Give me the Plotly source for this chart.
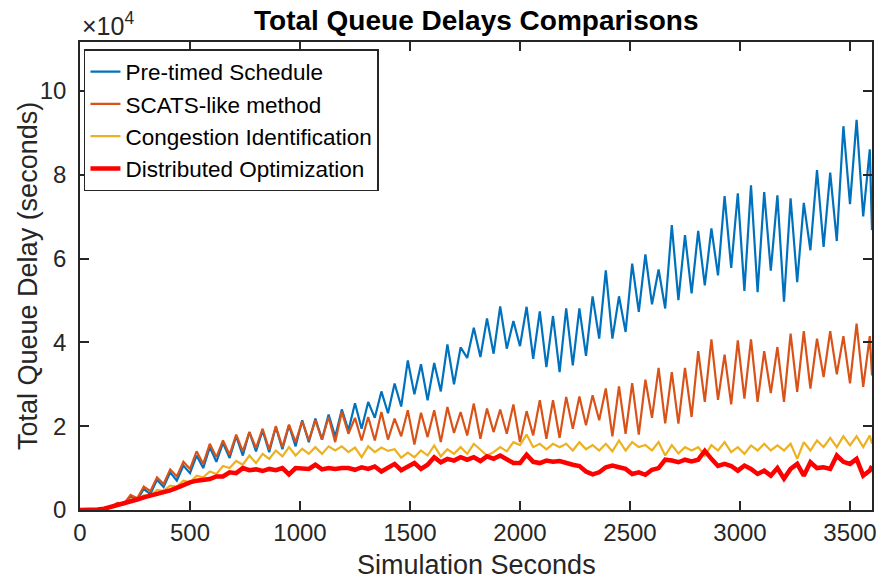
import plotly.graph_objects as go

# sampling grid (seconds)
seconds = [0] + list(range(20, 3591, 30)) + [3600]

# Values in units of 10^4 seconds
pretimed = [0.00,
    0.00, 0.01, 0.02, 0.04, 0.06, 0.15, 0.14, 0.32, 0.24, 0.50,
    0.38, 0.72, 0.55, 0.90, 0.70, 1.06, 0.88, 1.30, 1.00, 1.50,
    1.15, 1.60, 1.24, 1.76, 1.30, 1.86, 1.40, 1.90, 1.38, 1.98,
    1.45, 2.02, 1.52, 2.14, 1.62, 2.18, 1.68, 2.28, 1.75, 2.40,
    1.90, 2.55, 1.94, 2.58, 2.20, 2.83, 2.31, 3.02, 2.47, 3.57,
    2.76, 3.48, 2.62, 3.51, 2.83, 3.95, 3.00, 3.88, 3.63, 4.35,
    3.65, 4.57, 3.73, 4.86, 3.85, 4.51, 3.91, 4.85, 3.61, 4.74,
    3.41, 4.63, 3.29, 4.81, 3.45, 4.81, 3.68, 5.10, 4.09, 5.72,
    4.09, 5.10, 4.25, 5.88, 4.73, 6.10, 4.91, 5.74, 4.81, 6.80,
    5.01, 6.56, 5.17, 6.66, 5.36, 6.72, 5.60, 7.49, 5.78, 7.56,
    5.23, 7.75, 5.20, 7.59, 5.71, 7.51, 4.97, 7.44, 5.44, 7.33,
    6.20, 8.11, 6.28, 8.05, 6.42, 9.16, 7.30, 9.31, 7.01, 8.61,
    6.68]

scats = [0.00,
    0.00, 0.01, 0.02, 0.04, 0.07, 0.17, 0.15, 0.36, 0.28, 0.56,
    0.45, 0.78, 0.62, 0.97, 0.80, 1.15, 0.98, 1.40, 1.10, 1.58,
    1.26, 1.66, 1.32, 1.80, 1.40, 1.86, 1.48, 1.94, 1.44, 2.00,
    1.50, 2.04, 1.62, 2.12, 1.66, 2.14, 1.68, 2.22, 1.62, 2.34,
    1.82, 2.20, 1.66, 2.22, 1.66, 2.34, 1.68, 2.18, 1.76, 2.38,
    1.56, 2.32, 1.74, 2.38, 1.62, 2.46, 1.84, 2.34, 1.78, 2.54,
    1.70, 2.42, 1.86, 2.40, 1.82, 2.52, 1.62, 2.36, 1.78, 2.62,
    1.70, 2.62, 1.72, 2.70, 1.94, 2.71, 2.02, 2.74, 2.14, 2.90,
    1.76, 2.95, 1.82, 3.03, 1.80, 3.11, 2.20, 3.39, 2.07, 3.29,
    2.06, 3.39, 2.22, 3.79, 2.58, 4.07, 2.63, 3.71, 2.52, 4.05,
    2.66, 4.07, 2.58, 3.79, 2.79, 3.89, 2.58, 4.21, 2.82, 4.27,
    2.90, 4.09, 3.17, 4.27, 3.24, 4.15, 3.02, 4.45, 2.94, 4.15,
    3.21]

congestion = [0.00,
    0.00, 0.005, 0.01, 0.03, 0.06, 0.12, 0.14, 0.25, 0.24, 0.35,
    0.34, 0.48, 0.46, 0.58, 0.56, 0.70, 0.66, 0.82, 0.78, 0.92,
    0.86, 1.05, 1.00, 1.17, 1.08, 1.30, 1.12, 1.34, 1.22, 1.42,
    1.28, 1.50, 1.30, 1.46, 1.34, 1.50, 1.34, 1.52, 1.42, 1.52,
    1.38, 1.49, 1.26, 1.52, 1.38, 1.49, 1.41, 1.45, 1.25, 1.37,
    1.26, 1.42, 1.30, 1.54, 1.28, 1.45, 1.34, 1.50, 1.34, 1.58,
    1.45, 1.30, 1.38, 1.50, 1.40, 1.62, 1.55, 1.80, 1.50, 1.58,
    1.45, 1.58, 1.50, 1.58, 1.42, 1.62, 1.45, 1.55, 1.42, 1.58,
    1.40, 1.66, 1.42, 1.62, 1.50, 1.55, 1.42, 1.62, 1.30, 1.55,
    1.35, 1.50, 1.42, 1.50, 1.30, 1.55, 1.42, 1.62, 1.38, 1.50,
    1.34, 1.54, 1.42, 1.58, 1.42, 1.54, 1.42, 1.58, 1.22, 1.62,
    1.42, 1.66, 1.50, 1.72, 1.50, 1.76, 1.54, 1.76, 1.50, 1.78,
    1.58]

distributed = [0.00,
    0.00, 0.005, 0.01, 0.03, 0.07, 0.11, 0.16, 0.21, 0.25, 0.30,
    0.34, 0.38, 0.42, 0.47, 0.53, 0.60, 0.66, 0.70, 0.72, 0.74,
    0.80, 0.80, 0.90, 0.88, 1.00, 0.95, 0.97, 0.93, 0.98, 0.95,
    1.00, 0.85, 1.00, 1.00, 0.98, 1.08, 0.97, 1.00, 0.98, 1.00,
    1.00, 0.96, 1.02, 0.98, 1.04, 0.92, 1.00, 1.10, 0.95, 1.05,
    1.12, 0.98, 1.08, 1.26, 1.14, 1.22, 1.18, 1.26, 1.20, 1.26,
    1.17, 1.28, 1.22, 1.30, 1.22, 1.12, 1.12, 1.32, 1.15, 1.12,
    1.18, 1.15, 1.17, 1.12, 1.08, 1.05, 0.92, 0.85, 0.90, 1.02,
    1.06, 1.02, 0.98, 0.86, 0.90, 0.84, 0.96, 1.00, 1.20, 1.18,
    1.14, 1.20, 1.16, 1.20, 1.41, 1.22, 1.05, 1.10, 1.05, 0.94,
    1.06, 0.98, 0.86, 0.94, 0.82, 1.00, 0.75, 0.98, 1.10, 0.82,
    1.14, 1.00, 1.02, 0.98, 1.30, 1.15, 1.10, 1.22, 0.82, 0.94,
    1.05]

series_names = ["Pre-timed Schedule", "SCATS-like method",
                "Congestion Identification", "Distributed Optimization"]
x_ticks = [0, 500, 1000, 1500, 2000, 2500, 3000, 3500]
y_ticks = [0, 2, 4, 6, 8, 10]

FONT = "Liberation Sans, Arial, Helvetica, sans-serif"
AX = "#262626"

fig = go.Figure()
styles = [("#0072BD", 2.2), ("#D95319", 2.2), ("#EDB120", 2.2), ("#FF0000", 4.5)]
for name, ys, (col, w) in zip(series_names, [pretimed, scats, congestion, distributed], styles):
    fig.add_trace(go.Scatter(x=seconds, y=ys, mode="lines", name=name,
                             line=dict(color=col, width=w)))

axis_common = dict(showline=True, linecolor=AX, linewidth=1.5, mirror="ticks",
                   ticks="inside", ticklen=9, tickwidth=1.5, tickcolor=AX,
                   showgrid=False, zeroline=False, automargin=False,
                   tickfont=dict(family=FONT, size=24, color=AX))

fig.update_xaxes(range=[0, 3600], tickvals=x_ticks, **axis_common)
fig.update_yaxes(range=[0, 11.17], tickvals=y_ticks, ticklabelstandoff=7, **axis_common)

fig.update_layout(
    width=881, height=580,
    margin=dict(l=80, r=9, t=42, b=70),
    paper_bgcolor="white", plot_bgcolor="white",
    font=dict(family=FONT, color="black"),
    legend=dict(x=0.005, y=0.985, xanchor="left", yanchor="top",
                bgcolor="white", bordercolor=AX, borderwidth=1.5,
                font=dict(family=FONT, size=22.5, color="black"),
                itemwidth=30, tracegroupgap=0),
    annotations=[
        dict(text="<b>Total Queue Delays Comparisons</b>", xref="paper", yref="paper",
             x=0.5, y=1 + 21 / 468, xanchor="center", yanchor="middle",
             showarrow=False, font=dict(family=FONT, size=28, color="black")),
        dict(text="Simulation Seconds", xref="paper", yref="paper",
             x=0.5, y=-55 / 468, xanchor="center", yanchor="middle",
             showarrow=False, font=dict(family=FONT, size=27, color=AX)),
        dict(text="Total Queue Delay (seconds)", xref="paper", yref="paper",
             x=-52 / 792, y=0.5, xanchor="center", yanchor="middle", textangle=-90,
             showarrow=False, font=dict(family=FONT, size=27, color=AX)),
        dict(text="\u00d710<sup>4</sup>", xref="paper", yref="paper",
             x=0.0, y=1.0, xanchor="left", yanchor="bottom",
             showarrow=False, font=dict(family=FONT, size=25, color=AX)),
    ],
)

fig.write_html("out.html", config={"displayModeBar": False},
               post_script="document.body.style.margin='0';document.body.style.overflow='hidden';")
